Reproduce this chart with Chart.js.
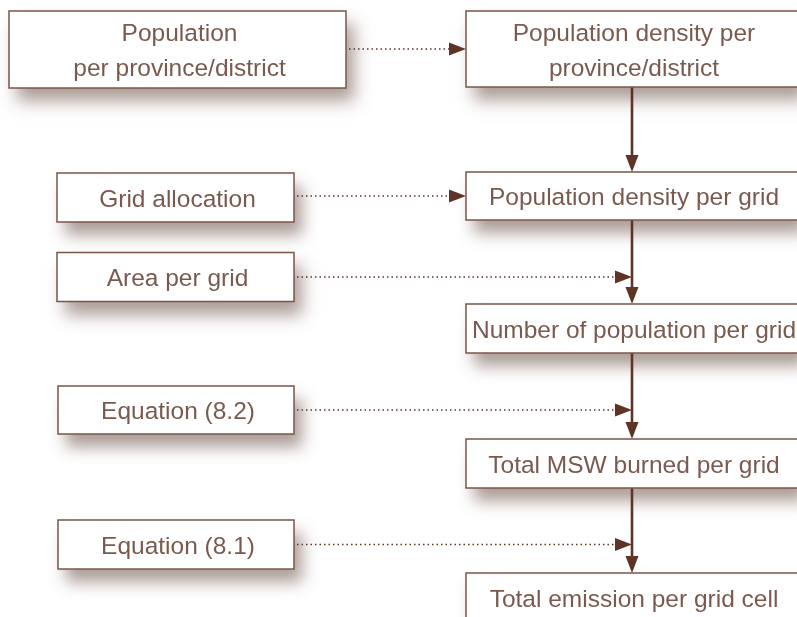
<!DOCTYPE html>
<html>
<head>
<meta charset="utf-8">
<script src="https://cdn.jsdelivr.net/npm/chart.js@4"></script>
<style>
  html, body { margin: 0; padding: 0; background: #fff; overflow: hidden; }
  canvas { display: block; }
</style>
</head>
<body>
<canvas id="flow" width="797" height="617"></canvas>
<script>
// Flowchart nodes (labels) and their centres in chart units
const leftLabels = ['Population\nper province/district', 'Grid allocation', 'Area per grid', 'Equation (8.2)', 'Equation (8.1)'];
const leftX = [177.5, 175.5, 175.5, 176, 176];
const leftY = [49.5, 197.5, 277, 410, 544.5];

const rightLabels = ['Population density per\nprovince/district', 'Population density per grid', 'Number of population per grid', 'Total MSW burned per grid', 'Total emission per grid cell'];
const rightX = [632, 632, 632, 632, 632];
const rightY = [49, 196, 328.5, 463.5, 597.5];

// dotted links: left node -> right node (box) or gap above right node (line)
const dottedLinks = [[0, 0, 'box'], [1, 1, 'box'], [2, 2, 'line'], [3, 3, 'line'], [4, 4, 'line']];

const ink = '#5e3427';
const textColor = '#7a5a4f';
const borderColor = '#7a5649';
const font = '24.5px "Liberation Sans", Arial, sans-serif';

// box sizes per node (pixels)
const leftSizes = [[337, 77], [237, 49], [237, 49], [236, 48], [236, 49]];
const rightSizes = [[332, 76], [332, 48], [332, 49], [332, 49], [332, 49]];

function arrowHead(ctx, x, y, dir, len, half) {
  ctx.beginPath();
  if (dir === 'right') {
    ctx.moveTo(x, y); ctx.lineTo(x - len, y - half); ctx.lineTo(x - len, y + half);
  } else {
    ctx.moveTo(x, y); ctx.lineTo(x - half, y - len); ctx.lineTo(x + half, y - len);
  }
  ctx.closePath();
  ctx.fill();
}

const flowPlugin = {
  id: 'flow',
  afterDatasetsDraw(chart) {
    const ctx = chart.ctx;
    const left = chart.getDatasetMeta(0).data;
    const right = chart.getDatasetMeta(1).data;

    const boxes = [];
    left.forEach((p, i) => boxes.push({ x: p.x, y: p.y, w: leftSizes[i][0], h: leftSizes[i][1], label: leftLabels[i] }));
    right.forEach((p, i) => boxes.push({ x: p.x, y: p.y, w: rightSizes[i][0], h: rightSizes[i][1], label: rightLabels[i] }));

    // shadows
    boxes.forEach(b => {
      ctx.save();
      ctx.shadowColor = 'rgba(90, 60, 50, 0.5)';
      ctx.shadowBlur = 16;
      ctx.shadowOffsetX = 8;
      ctx.shadowOffsetY = 13;
      ctx.fillStyle = '#fff';
      ctx.fillRect(b.x - b.w / 2, b.y - b.h / 2, b.w, b.h);
      ctx.restore();
    });

    // vertical solid arrows between right boxes
    ctx.save();
    ctx.strokeStyle = ink;
    ctx.fillStyle = ink;
    ctx.lineWidth = 2.6;
    for (let i = 0; i < right.length - 1; i++) {
      const a = right[i], b = right[i + 1];
      const y0 = a.y + rightSizes[i][1] / 2;
      const y1 = b.y - rightSizes[i + 1][1] / 2;
      ctx.beginPath();
      ctx.moveTo(a.x, y0);
      ctx.lineTo(a.x, y1 - 14);
      ctx.stroke();
      arrowHead(ctx, a.x, y1, 'down', 17, 6.5);
    }
    ctx.restore();

    // dotted arrows
    ctx.save();
    ctx.strokeStyle = ink;
    ctx.fillStyle = ink;
    ctx.lineWidth = 1.5;
    ctx.setLineDash([1.5, 3]);
    dottedLinks.forEach(([li, ri, kind]) => {
      const a = left[li], b = right[ri];
      const x0 = a.x + leftSizes[li][0] / 2 + 3;
      const y = kind === 'box' ? b.y : a.y;
      const x1 = kind === 'box' ? b.x - rightSizes[ri][0] / 2 : b.x;
      ctx.beginPath();
      ctx.moveTo(x0, y);
      ctx.lineTo(x1 - 15, y);
      ctx.stroke();
      ctx.save();
      ctx.setLineDash([]);
      arrowHead(ctx, x1, y, 'right', 17, 6.5);
      ctx.restore();
    });
    ctx.restore();

    // boxes and labels
    ctx.save();
    boxes.forEach(b => {
      ctx.fillStyle = '#fff';
      ctx.fillRect(b.x - b.w / 2, b.y - b.h / 2, b.w, b.h);
      ctx.strokeStyle = borderColor;
      ctx.lineWidth = 1.5;
      ctx.strokeRect(b.x - b.w / 2, b.y - b.h / 2, b.w, b.h);
      ctx.fillStyle = textColor;
      ctx.font = font;
      ctx.textAlign = 'center';
      ctx.textBaseline = 'alphabetic';
      const lines = b.label.split('\n');
      const lh = 35;
      lines.forEach((t, k) => {
        ctx.fillText(t, b.x + 2, b.y + 9 + (k - (lines.length - 1) / 2) * lh);
      });
    });
    ctx.restore();
  }
};

new Chart(document.getElementById('flow').getContext('2d'), {
  type: 'scatter',
  data: {
    datasets: [
      { label: 'inputs', data: leftX.map((x, i) => ({ x, y: leftY[i] })), pointRadius: 0 },
      { label: 'steps', data: rightX.map((x, i) => ({ x, y: rightY[i] })), pointRadius: 0 }
    ]
  },
  options: {
    responsive: false,
    animation: false,
    layout: { padding: 0 },
    scales: {
      x: { type: 'linear', min: 0, max: 797, display: false },
      y: { type: 'linear', min: 0, max: 617, reverse: true, display: false }
    },
    plugins: {
      legend: { display: false },
      tooltip: { enabled: false }
    }
  },
  plugins: [flowPlugin]
});
</script>
</body>
</html>
